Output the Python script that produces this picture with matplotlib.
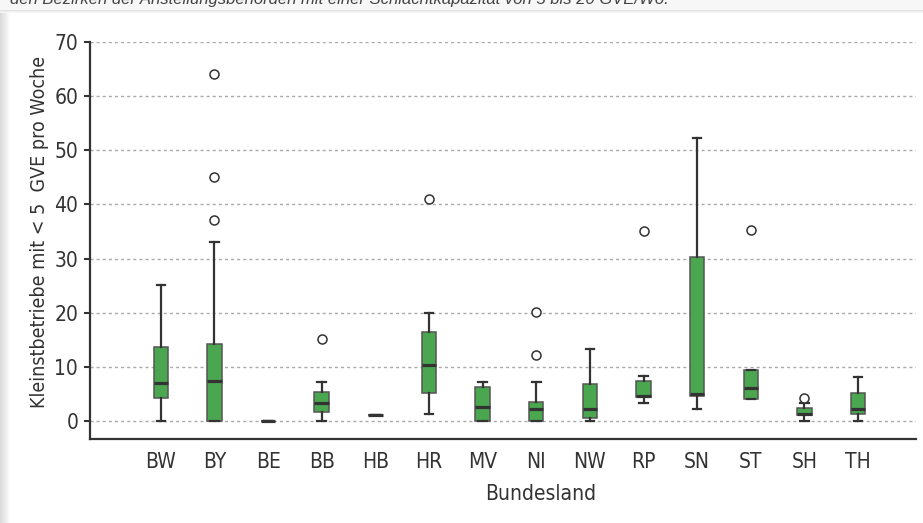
import matplotlib
matplotlib.use("Agg")
import matplotlib.pyplot as plt
from matplotlib.patches import Rectangle
from matplotlib import font_manager
import numpy as np

# Federal states and per-state box statistics (small slaughter units per week)
categories = ["BW", "BY", "BE", "BB", "HB", "HR", "MV", "NI", "NW", "RP", "SN", "ST", "SH", "TH"]
whislo = [0.0, 0.0, 0.0, 0.0, 1.2, 1.4, 0.0, 0.0, 0.0, 3.4, 2.3, 4.1, 0.0, 0.0]
q1 = [4.2, 0.1, 0.0, 1.6, 1.2, 5.2, 0.1, 0.1, 0.6, 4.4, 4.6, 4.1, 1.1, 1.3]
medians = [7.1, 7.4, 0.0, 3.3, 1.2, 10.3, 2.6, 2.3, 2.2, 4.7, 5.0, 6.2, 1.4, 2.2]
q3 = [13.7, 14.3, 0.0, 5.3, 1.2, 16.4, 6.3, 3.6, 6.9, 7.4, 30.3, 9.4, 2.5, 5.2]
whishi = [25.1, 33.1, 0.0, 7.3, 1.2, 20.0, 7.3, 7.3, 13.3, 8.3, 52.3, 9.4, 3.3, 8.1]
fliers = [[], [64.1, 45.1, 37.2], [], [15.2], [], [41.0], [], [20.1, 12.3], [], [35.1], [], [35.2], [4.3], []]
yticks = [0, 10, 20, 30, 40, 50, 60, 70]

caption = "den Bezirken der Anstellungsbehörden mit einer Schlachtkapazität von 5 bis 20 GVE/Wo."

# prefer a condensed face when one is available
names = {f.name for f in font_manager.fontManager.ttflist}
condensed = [n for n in ["Liberation Sans Narrow", "DejaVu Sans Condensed"] if n in names]
plt.rcParams["font.family"] = condensed + ["DejaVu Sans"]
plt.rcParams["font.stretch"] = "condensed"

W, H = 923, 523
fig = plt.figure(figsize=(W / 100, H / 100), dpi=100)
fig.patch.set_facecolor("white")

# card shadow along the left and top edges
left_w = 9
for i in range(left_w):
    c = 0.86 + 0.12 * i / left_w
    fig.patches.append(Rectangle((i / W, 0), 1 / W, 1 - 12 / H, transform=fig.transFigure,
                                 facecolor=(c, c, c), edgecolor="none", zorder=0))
for i in range(4):
    c = 0.85 + 0.04 * i
    fig.patches.append(Rectangle((0, 1 - (10 + i) / H), 1, 1 / H, transform=fig.transFigure,
                                 facecolor=(c, c, c), edgecolor="none", zorder=0))
fig.patches.append(Rectangle((0, 1 - 10 / H), 1, 10 / H, transform=fig.transFigure,
                             facecolor="#f7f7f7", edgecolor="none", zorder=0))
fig.text(10 / W, 1 - 4 / H, caption, fontsize=12, style="italic", color="#444444",
         va="baseline", ha="left", family=["Liberation Sans", "DejaVu Sans"], stretch="normal")

ax = fig.add_axes([90 / W, 1 - 439 / H, (916 - 90) / W, (439 - 42) / H])
ax.set_facecolor("white")

stats = []
for i, cat in enumerate(categories):
    stats.append(dict(label=cat, whislo=whislo[i], q1=q1[i], med=medians[i],
                      q3=q3[i], whishi=whishi[i], fliers=fliers[i]))

positions = np.arange(len(categories))
ax.bxp(stats, positions=positions, widths=0.27, capwidths=0.16, patch_artist=True,
       showfliers=True,
       boxprops=dict(facecolor="#4aa74f", edgecolor="#555555", linewidth=1.1),
       medianprops=dict(color="#333333", linewidth=2.3),
       whiskerprops=dict(color="#333333", linewidth=1.6),
       capprops=dict(color="#333333", linewidth=1.6),
       flierprops=dict(marker="o", markerfacecolor="white", markeredgecolor="#333333",
                       markersize=6.5, markeredgewidth=1.1),
       zorder=3)

ax.set_xlim(-1.32, 14.08)
ax.set_ylim(-3.3, 70)
ax.set_yticks(yticks)
ax.set_xticks(positions)
ax.set_xticklabels(categories)

ax.yaxis.grid(True, linestyle=(0, (2.2, 2.2)), color="#aaaaaa", linewidth=1.0, zorder=0)
ax.set_axisbelow(True)

for s in ["top", "right"]:
    ax.spines[s].set_visible(False)
for s in ["left", "bottom"]:
    ax.spines[s].set_color("#333333")
    ax.spines[s].set_linewidth(1.6)
ax.spines["left"].set_bounds(-3.3, 70)

ax.tick_params(axis="y", length=4.5, width=1.5, color="#333333", labelsize=15,
               labelcolor="#333333", pad=4)
ax.tick_params(axis="x", length=0, labelsize=15, labelcolor="#333333", pad=9)

ax.set_ylabel("Kleinstbetriebe mit < 5  GVE pro Woche", fontsize=14, color="#333333")
ax.yaxis.set_label_coords(-50 / 826, 0.522)
ax.set_xlabel("Bundesland", fontsize=15, color="#333333")
ax.xaxis.set_label_coords((541 - 90) / 826, -55 / 397)
ax.xaxis.label.set_va("center")
ax.yaxis.label.set_va("center")

fig.savefig("out.png", dpi=100, facecolor=fig.get_facecolor())
